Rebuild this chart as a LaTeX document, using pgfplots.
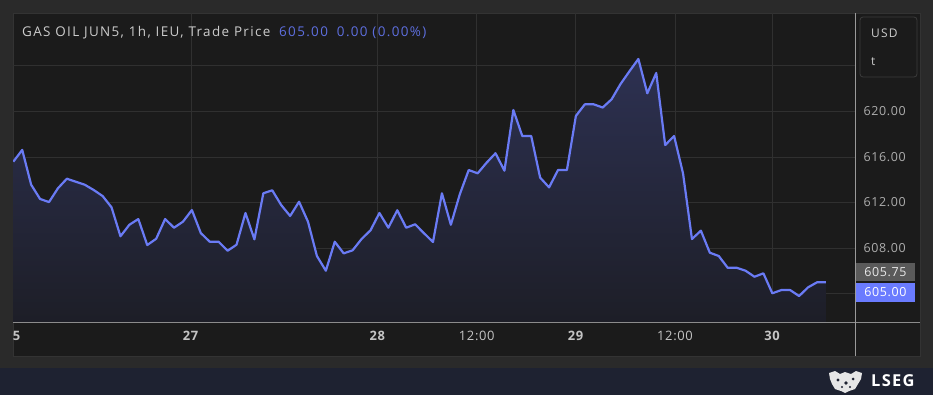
\documentclass[border=0pt]{standalone}
\usepackage{pgfplots}
\pgfplotsset{compat=1.18}
\usepackage{pgfplotstable}
\usepackage{fontspec}
\setmainfont{Open Sans}
\newfontfamily\uifont[LetterSpace=10]{Open Sans}
\newfontfamily\numfont[LetterSpace=5]{Open Sans}
\newfontfamily\logofont[LetterSpace=8]{Open Sans}
\definecolor{outerbg}{HTML}{2A2A2A}
\definecolor{panelbg}{HTML}{1B1B1B}
\definecolor{panelframe}{HTML}{333333}
\definecolor{gridc}{HTML}{303030}
\definecolor{axisc}{HTML}{8C8C8C}
\definecolor{vlinec}{HTML}{9A9A9A}
\definecolor{unitframe}{HTML}{3C3C3C}
\definecolor{linec}{HTML}{6A7BF5}
\definecolor{titlec}{HTML}{CCCCCC}
\definecolor{tickc}{HTML}{ADADAD}
\definecolor{xtickc}{HTML}{C4C4C4}
\definecolor{valc}{HTML}{5E6FE0}
\definecolor{navy}{HTML}{1E2231}
\definecolor{filltop}{HTML}{2D3152}
\definecolor{fillbot}{HTML}{1D1E27}
\definecolor{grayboxc}{HTML}{5A5A5A}
\definecolor{grayboxtext}{HTML}{E8E8E8}
\definecolor{blueboxc}{HTML}{6A7BFF}
\definecolor{crestc}{HTML}{E6E6E6}
\pgfplotstableread{
x y
0 615.58
1 616.61
2 613.56
3 612.31
4 612.04
5 613.25
6 614.09
7 613.82
8 613.56
9 613.10
10 612.57
11 611.58
12 609.04
13 610.05
14 610.55
15 608.27
16 608.82
17 610.55
18 609.79
19 610.32
20 611.34
21 609.32
22 608.56
23 608.56
24 607.77
25 608.30
26 611.08
27 608.77
28 612.81
29 613.07
30 611.78
31 610.82
32 612.07
33 610.32
34 607.31
35 606.02
36 608.56
37 607.54
38 607.81
39 608.80
40 609.56
41 611.08
42 609.79
43 611.32
44 609.79
45 610.09
46 609.30
47 608.54
48 612.81
49 610.05
50 612.72
51 614.85
52 614.56
53 615.49
54 616.32
55 614.79
56 620.11
57 617.83
58 617.83
59 614.18
60 613.33
61 614.85
62 614.85
63 619.59
64 620.61
65 620.61
66 620.33
67 621.05
68 622.39
69 623.51
70 624.59
71 621.58
72 623.36
73 617.04
74 617.83
75 614.56
76 608.80
77 609.53
78 607.60
79 607.31
80 606.28
81 606.28
82 606.02
83 605.49
84 605.79
85 604.04
86 604.32
87 604.32
88 603.80
89 604.56
90 605.00
91 605.00
}\gasoil
\begin{document}
\begin{tikzpicture}[x=1bp,y=1bp]
\useasboundingbox (0,0) rectangle (933,395);
\fill[outerbg] (0,0) rectangle (933,395);
\fill[panelbg] (13,39) rectangle (920,382);
\draw[panelframe, line width=0.6bp] (13,39) rectangle (920,382);
\fill[navy] (0,0) rectangle (933,27);
\begin{axis}[
  at={(13bp,72.3bp)}, anchor=south west,
  scale only axis, width=842bp, height=309.7bp,
  xmin=-0.034, xmax=94.26, ymin=601.46, ymax=628.62,
  axis line style={draw=none},
  major tick length=0pt,
  grid=major,
  major grid style={color=gridc, line width=0.8bp},
  xtick={19.9,40.8,51.9,63,74.1,85},
  xticklabels={\textbf{27},\textbf{28},12:00,\textbf{29},12:00,\textbf{30}},
  extra x ticks={0.41},
  extra x tick labels={\textbf{5}},
  extra x tick style={grid=none},
  xticklabel style={font=\numfont\fontsize{13}{15}\selectfont, text=xtickc, yshift=-5bp},
  ytick={604,608,612,616,620,624},
  yticklabels={,608.00,612.00,616.00,620.00,},
  yticklabel pos=right,
  yticklabel style={font=\numfont\fontsize{12.5}{14}\selectfont, text=tickc, anchor=west, inner sep=0pt, xshift=8.5bp},
  /pgf/number format/assume math mode=true,
]
\addplot[draw=none, top color=filltop, bottom color=fillbot] table[x=x,y=y] {\gasoil} \closedcycle;
\addplot[color=linec, line width=2.2bp, line join=round, mark=none] table[x=x,y=y] {\gasoil};
\end{axis}
\draw[axisc, line width=1.2bp] (13,72.3) -- (920,72.3);
\draw[vlinec, line width=0.8bp] (855.5,39) -- (855.5,382);
\node[anchor=west, inner sep=0pt, text=titlec, font=\uifont\fontsize{13.5}{15}\selectfont] at (22,362)
  {GAS OIL JUN5, 1h, IEU, Trade Price};
\node[anchor=west, inner sep=0pt, text=valc, font=\uifont\fontsize{13.5}{15}\selectfont] at (279,362)
  {605.00\hspace{9bp}0.00 (0.00\%)};
\draw[unitframe, fill=panelbg, rounded corners=3bp, line width=0.8bp] (860,318) rectangle (917,378);
\node[anchor=west, inner sep=0pt, text=titlec, font=\uifont\fontsize{12}{14}\selectfont] at (871,362) {USD};
\node[anchor=west, inner sep=0pt, text=titlec, font=\uifont\fontsize{12}{14}\selectfont] at (871,333) {t};
\fill[grayboxc] (856,114) rectangle (915,132);
\node[text=grayboxtext, font=\numfont\fontsize{12.5}{14}\selectfont, inner sep=0pt] at (885.5,122.5) {605.75};
\fill[blueboxc] (856,93) rectangle (915,112);
\node[text=white, font=\numfont\fontsize{12.5}{14}\selectfont, inner sep=0pt] at (885.5,102.5) {605.00};
% crest (logo)
\fill[crestc] (829,22) -- (835,24) -- (840,21) -- (845,23) -- (851,21) -- (856,24) -- (862,22)
  -- (861,16) -- (858,11) -- (855,6) -- (849,4) -- (845,2) -- (841,4) -- (835,6) -- (832,11) -- (830,16) -- cycle;
\fill[navy] (838,15) circle (1.6) (846,12) circle (1.8) (853,16) circle (1.5) (842,8) circle (1.2) (850,8) circle (1.2);
\node[anchor=west, inner sep=0pt, text=white, font=\logofont\fontsize{16.5}{18}\selectfont\bfseries] at (871,14) {LSEG};
\end{tikzpicture}
\end{document}
